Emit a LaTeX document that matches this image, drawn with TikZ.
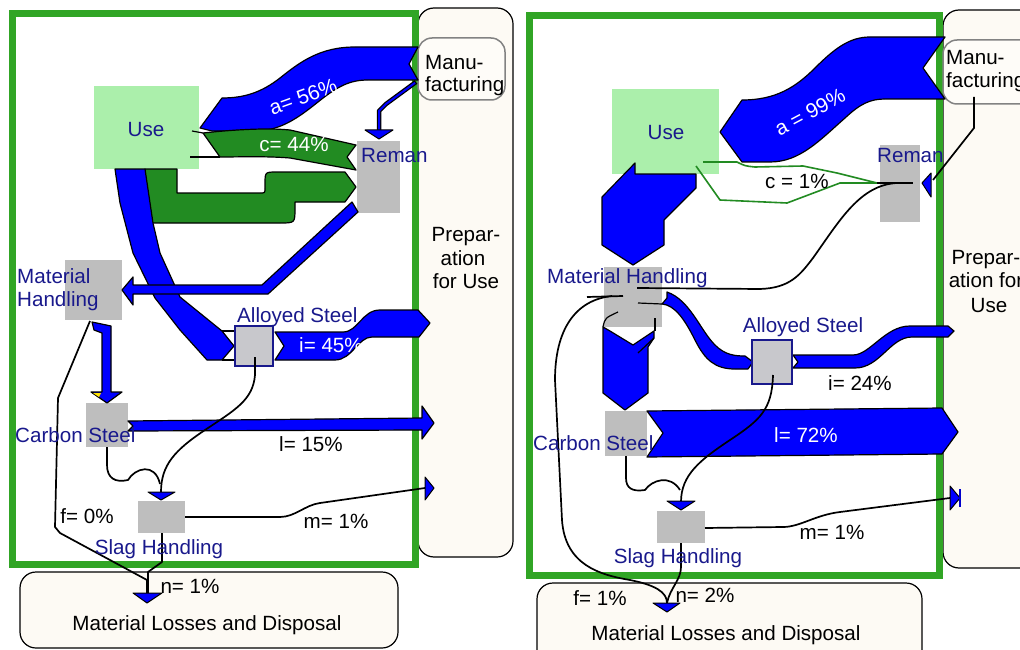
\documentclass[tikz,border=0pt]{standalone}
\usepackage{fontspec}
\setmainfont{Liberation Sans}
\definecolor{fgreen}{RGB}{49,165,37}
\definecolor{flowg}{RGB}{34,139,34}
\definecolor{useg}{RGB}{171,239,171}
\definecolor{ngray}{RGB}{190,190,190}
\definecolor{agray}{RGB}{200,200,204}
\definecolor{navyl}{RGB}{25,25,140}
\definecolor{cream}{RGB}{253,250,244}
\definecolor{mgray}{RGB}{130,130,130}
\tikzset{
  lbl/.style={font=\fontsize{20.6}{24}\selectfont, text=navyl, inner sep=0pt},
  txt/.style={font=\fontsize{20.6}{24}\selectfont, text=black, inner sep=0pt},
  wtxt/.style={font=\fontsize{20.6}{24}\selectfont, text=white, inner sep=0pt},
  bflow/.style={fill=blue, draw=black, line width=1.2pt, line join=round},
  gflow/.style={fill=flowg, draw=black, line width=1.2pt, line join=round},
  conn/.style={draw=black, line width=1.7pt, line join=round},
  gline/.style={draw=flowg, line width=1.6pt, line join=round},
  tiptri/.style={fill=blue, draw=black, line width=1pt, line join=round},
  gbox/.style={fill=ngray, draw=none, inner sep=0pt, outer sep=0pt},
  usebox/.style={fill=useg, draw=none, inner sep=0pt, outer sep=0pt},
  abox/.style={fill=agray, draw=navyl, line width=1.5pt, inner sep=0pt, outer sep=0pt},
  frame/.style={draw=fgreen, line width=7pt},
  panel/.style={draw=black, fill=cream, line width=1.2pt, rounded corners=16pt, inner sep=0pt},
  manubox/.style={draw=mgray, fill=cream!60!white, line width=1.5pt, rounded corners=14pt, inner sep=0pt},
}
\begin{document}
\begin{tikzpicture}[x=1pt,y=-1pt]
\clip (0,0) rectangle (1020,650);
\fill[white] (0,0) rectangle (1020,650);
% ================= LEFT PANEL =================
\node[panel, minimum width=95pt, minimum height=549pt] (prepL) at (465.5,282.5) {};
\node[panel, minimum width=378pt, minimum height=76pt] (lossL) at (209,610) {};
\draw[frame] (12,13.5) rectangle (415.5,564.5);
\node[manubox, minimum width=87pt, minimum height=62pt] (manuL) at (461.5,69) {};
\node[usebox, minimum width=105pt, minimum height=83pt] (useL) at (146.5,127.5) {};
\node[gbox, minimum width=43pt, minimum height=72pt] (remanL) at (378.5,177) {};
\node[gbox, minimum width=57pt, minimum height=60pt] (mhL) at (93.5,290) {};
\node[gbox, minimum width=42pt, minimum height=44pt] (carbL) at (107,425) {};
\node[gbox, minimum width=47pt, minimum height=32pt] (slagL) at (161.5,517) {};
% a = 56%
\filldraw[bflow] (418,47) -- (355,47) .. controls (320,47) and (300,62) .. (280,78)
  .. controls (262,92) and (245,98) .. (222,98) -- (200,128) -- (212,131) -- (255,131)
  .. controls (280,131) and (298,118) .. (318,102) .. controls (338,86) and (350,80) .. (368,80)
  -- (418,80) -- (409,64) -- cycle;
% c = 44%
\filldraw[gflow] (203,133) .. controls (240,129) and (270,128) .. (290,130) -- (356,145) -- (347,157)
  -- (356,170) -- (290,158) .. controls (265,156) and (240,157) .. (220,157) -- cycle;
\draw[conn, line width=1.2pt] (192,131) -- (203,133);
\draw[conn, line width=1.2pt] (190,157) -- (220,157);
% green U
\filldraw[gflow] (145,169) -- (145,208) .. controls (145,223) .. (160,223) -- (280,223)
  .. controls (295,223) .. (295,208) -- (295,202) -- (345,202) -- (356,187) -- (345,172)
  -- (277,172) .. controls (265,172) .. (265,184) -- (265,188) .. controls (265,193) .. (260,193)
  -- (177,193) -- (177,169) -- cycle;
% Use -> Alloyed
\filldraw[bflow] (115,169) -- (120,203) -- (133,253) -- (155,298) -- (180,330) -- (207,360)
  -- (222,360) -- (234,346) -- (222,331) -- (180,297) -- (160,253) -- (153,223) -- (145,169) -- cycle;
\draw[conn, line width=1.2pt] (222,331) -- (235,331);
\draw[conn, line width=1.2pt] (222,360) -- (235,360);
% i = 45%
\filldraw[bflow] (275,332) -- (343,332) .. controls (358,332) and (362,310) .. (380,310) -- (418,310)
  -- (430,323) -- (419,337) -- (372,337) .. controls (358,337) and (352,360) .. (335,360)
  -- (275,360) -- (284,346) -- cycle;
% Reman -> MH
\filldraw[bflow] (352,202) -- (262,285) -- (133,285) -- (133,277) -- (122,290) -- (133,305)
  -- (133,294) -- (268,294) -- (358,212) -- cycle;
% MH -> Carbon
\filldraw[bflow] (92,322) -- (111,326) -- (111,392) -- (122,392) -- (107,403) -- (91,392)
  -- (102,392) -- (102,333) -- (94,330) -- cycle;
\fill[yellow!85!orange] (93,393) -- (101,393) -- (99,397) -- cycle;
% l = 15%
\filldraw[bflow] (128,421) -- (422,418) -- (422,406) -- (434,423) -- (422,439) -- (422,430)
  -- (128,431) -- (133,426) -- cycle;
% Manufacturing -> Reman
\draw[line width=4.5pt, black, line join=round] (416,82) -- (386,104) -- (379,111) -- (379,130);
\draw[line width=2pt, blue, line join=round] (415,82.8) -- (386,104) -- (379,111) -- (379,131);
\filldraw[tiptri] (365,130) -- (393,130) -- (379,139) -- cycle;
\node[abox, minimum width=38pt, minimum height=40pt] (allL) at (254,346) {};
% black connectors
\draw[conn] (255,357) -- (255,375) .. controls (253,400) and (235,410) .. (205,430)
  .. controls (175,450) and (161,465) .. (161,492);
\filldraw[tiptri] (148,492) -- (175,492) -- (161,500) -- cycle;
\draw[conn] (107,447) -- (107,465) .. controls (107,478) and (115,483) .. (128,480)
  .. controls (135,468) and (155,462) .. (160,484);
\draw[conn] (90,321) -- (58,398) -- (55,527) -- (60,533) -- (147,580) -- (147,593);
\draw[conn] (162,533) -- (162,562) -- (148,572) -- (148,593);
\filldraw[tiptri] (133,593) -- (162,593) -- (147,603) -- cycle;
\draw[conn] (185,517) -- (280,517) .. controls (295,517) and (305,505) .. (320,503) -- (425,488);
\filldraw[tiptri] (425,477) -- (434,488) -- (425,500) -- cycle;
% left labels
\node[lbl, anchor=base] (tUseL) at (146,137) {Use};
\node[wtxt, anchor=base] (tcL) at (294,152) {c= 44\%};
\node[wtxt, rotate=20] (taL) at (303,97) {a= 56\%};
\node[lbl, anchor=base west] (tRemL) at (361,163) {Reman};
\node[txt, anchor=base west] (tMa1L) at (425,70) {Manu-};
\node[txt, anchor=base west] (tMa2L) at (425,92) {facturing};
\node[txt, anchor=base] (tPr1L) at (466,241) {Prepar-};
\node[txt, anchor=base] (tPr2L) at (463,265) {ation};
\node[txt, anchor=base] (tPr3L) at (466,288) {for Use};
\node[lbl, anchor=base west] (tMh1L) at (17,283) {Material};
\node[lbl, anchor=base west] (tMh2L) at (17,306) {Handling};
\node[lbl, anchor=base west] (tAlL) at (237,322) {Alloyed Steel};
\node[wtxt, anchor=base] (tiL) at (331,352) {i= 45\%};
\node[lbl, anchor=base west] (tCaL) at (15,442) {Carbon Steel};
\node[txt, anchor=base] (tlL) at (311,451) {l= 15\%};
\node[txt, anchor=base] (tmL) at (336,528) {m= 1\%};
\node[txt, anchor=base] (tfL) at (87,523) {f= 0\%};
\node[lbl, anchor=base] (tSlL) at (159,554) {Slag Handling};
\node[txt, anchor=base] (tnL) at (190,593) {n= 1\%};
\node[txt, anchor=base] (tLoL) at (207,630) {Material Losses and Disposal};
% ================= RIGHT PANEL =================
\node[panel, minimum width=117pt, minimum height=558pt] (prepR) at (1001.5,289) {};
\node[panel, minimum width=385pt, minimum height=92pt] (lossR) at (729.5,629) {};
\draw[frame] (529.5,15.5) rectangle (939,575.5);
\node[manubox, minimum width=97pt, minimum height=64pt] (manuR) at (991.5,72) {};
\node[usebox, minimum width=107pt, minimum height=85pt] (useR) at (665.5,131.5) {};
\node[gbox, minimum width=40pt, minimum height=77pt] (remanR) at (900,183.5) {};
\node[gbox, minimum width=58pt, minimum height=60pt] (mhR) at (633,297) {};
\node[gbox, minimum width=42pt, minimum height=45pt] (carbR) at (626,433.5) {};
\node[gbox, minimum width=48pt, minimum height=32pt] (slagR) at (681,527) {};
% a = 99%
\filldraw[bflow] (945,37) -- (870,37) .. controls (850,37) and (835,48) .. (815,68)
  .. controls (795,88) and (775,100) .. (742,100) -- (720,132) -- (742,162) -- (770,162)
  .. controls (800,162) and (820,140) .. (845,118) .. controls (860,104) and (870,99) .. (885,99)
  -- (945,99) -- (923,68) -- cycle;
% Use -> MH
\filldraw[bflow] (635,163) -- (635,174) -- (696,174) -- (696,188) -- (664,220) -- (664,245)
  -- (633,265) -- (602,245) -- (602,197) -- cycle;
% MH -> Carbon
\filldraw[bflow] (603,327) -- (610,331) -- (633,345) -- (654,331) -- (654,338) -- (648,347)
  -- (648,393) -- (625,410) -- (603,393) -- cycle;
\draw[conn, line width=1.2pt] (603,327) .. controls (605,318) .. (618,312);
\draw[conn, line width=1.2pt] (655,331) -- (655,318);
\draw[conn, line width=1.2pt] (654,338) -- (638,353);
% MH -> Alloyed
\filldraw[bflow] (667,292) .. controls (690,300) and (700,330) .. (715,345)
  .. controls (725,355) and (735,356) .. (745,356) -- (753,362) -- (748,369) -- (735,369)
  .. controls (715,369) and (705,360) .. (695,340) .. controls (685,320) and (675,305) .. (662,304)
  -- (667,298) -- cycle;
\draw[conn, line width=1.2pt] (638,303) -- (662,304);
% i = 24%
\filldraw[bflow] (793,355) -- (853,355) .. controls (870,355) and (885,326) .. (910,326) -- (948,326)
  -- (954,331) -- (948,337) -- (912,337) .. controls (890,337) and (880,368) .. (855,368)
  -- (793,368) -- (798,362) -- cycle;
% l = 72%
\filldraw[bflow] (647,411) -- (942,408) -- (958,432) -- (942,454) -- (647,457) -- (663,433) -- cycle;
\node[abox, minimum width=40pt, minimum height=44pt] (allR) at (772,362) {};
% c = 1%
\draw[gline] (703,162) -- (737,162) .. controls (745,166) .. (755,167) -- (803,166) -- (837,173) -- (877,183);
\draw[gline] (696,166) -- (720,200) -- (787,203) -- (840,183) -- (877,183);
\draw[conn] (877,183) -- (913,183);
% Manufacturing -> Reman
\draw[conn] (974,97) -- (974,128) -- (933,180);
\filldraw[tiptri] (931,173) -- (931,197) -- (922,183) -- cycle;
% Reman -> MH
\draw[conn] (897,183) .. controls (860,185) and (840,220) .. (813,258)
  .. controls (800,275) and (790,288) .. (760,289) -- (637,288);
% f loop
\draw[conn] (623,296) -- (587,297);
\draw[conn] (612,296) .. controls (575,300) and (555,330) .. (555,380) -- (562,520)
  .. controls (565,565) and (600,575) .. (630,580) .. controls (655,585) and (667,592) .. (667,603);
% Alloyed -> Slag
\draw[conn] (773,375) .. controls (772,410) and (760,420) .. (730,440)
  .. controls (700,460) and (681,475) .. (681,502);
\filldraw[tiptri] (667,501) -- (695,501) -- (681,510) -- cycle;
% Carbon -> Slag
\draw[conn] (626,456) -- (626,478) .. controls (626,488) and (632,492) .. (645,490)
  .. controls (652,480) and (670,474) .. (680,490);
% Slag -> m
\draw[conn] (705,528) -- (783,527) .. controls (800,527) and (815,515) .. (840,512) -- (950,498);
\filldraw[tiptri] (950,486) -- (950,510) -- (960,498) -- cycle;
\draw[line width=2.5pt, blue!80!black] (960,489) -- (960,507);
% Slag -> Losses
\draw[conn] (681,543) -- (681,567) .. controls (681,580) and (670,588) .. (667,603);
\filldraw[tiptri] (653,603) -- (680,603) -- (667,612) -- cycle;
% right labels
\node[lbl, anchor=base] (tUseR) at (666,140) {Use};
\node[wtxt, rotate=28] (taR) at (810,112) {a = 99\%};
\node[txt, anchor=base] (tcR) at (797,188) {c = 1\%};
\node[lbl, anchor=base west] (tRemR) at (877,163) {Reman};
\node[txt, anchor=base west] (tMa1R) at (946,65) {Manu-};
\node[txt, anchor=base west] (tMa2R) at (946,88) {facturing};
\node[txt, anchor=base] (tPr1R) at (986,264) {Prepar-};
\node[txt, anchor=base] (tPr2R) at (986,287) {ation for};
\node[txt, anchor=base] (tPr3R) at (989,312) {Use};
\node[lbl, anchor=base west] (tMhR) at (547,283) {Material Handling};
\node[lbl, anchor=base] (tAlR) at (803,332) {Alloyed Steel};
\node[txt, anchor=base] (tiR) at (860,390) {i= 24\%};
\node[lbl, anchor=base west] (tCaR) at (533,450) {Carbon Steel};
\node[wtxt, anchor=base] (tlR) at (806,442) {l= 72\%};
\node[txt, anchor=base] (tmR) at (832,539) {m= 1\%};
\node[lbl, anchor=base] (tSlR) at (678,563) {Slag Handling};
\node[txt, anchor=base] (tfR) at (600,605) {f= 1\%};
\node[txt, anchor=base] (tnR) at (705,602) {n= 2\%};
\node[txt, anchor=base] (tLoR) at (726,640) {Material Losses and Disposal};
\end{tikzpicture}
\end{document}
